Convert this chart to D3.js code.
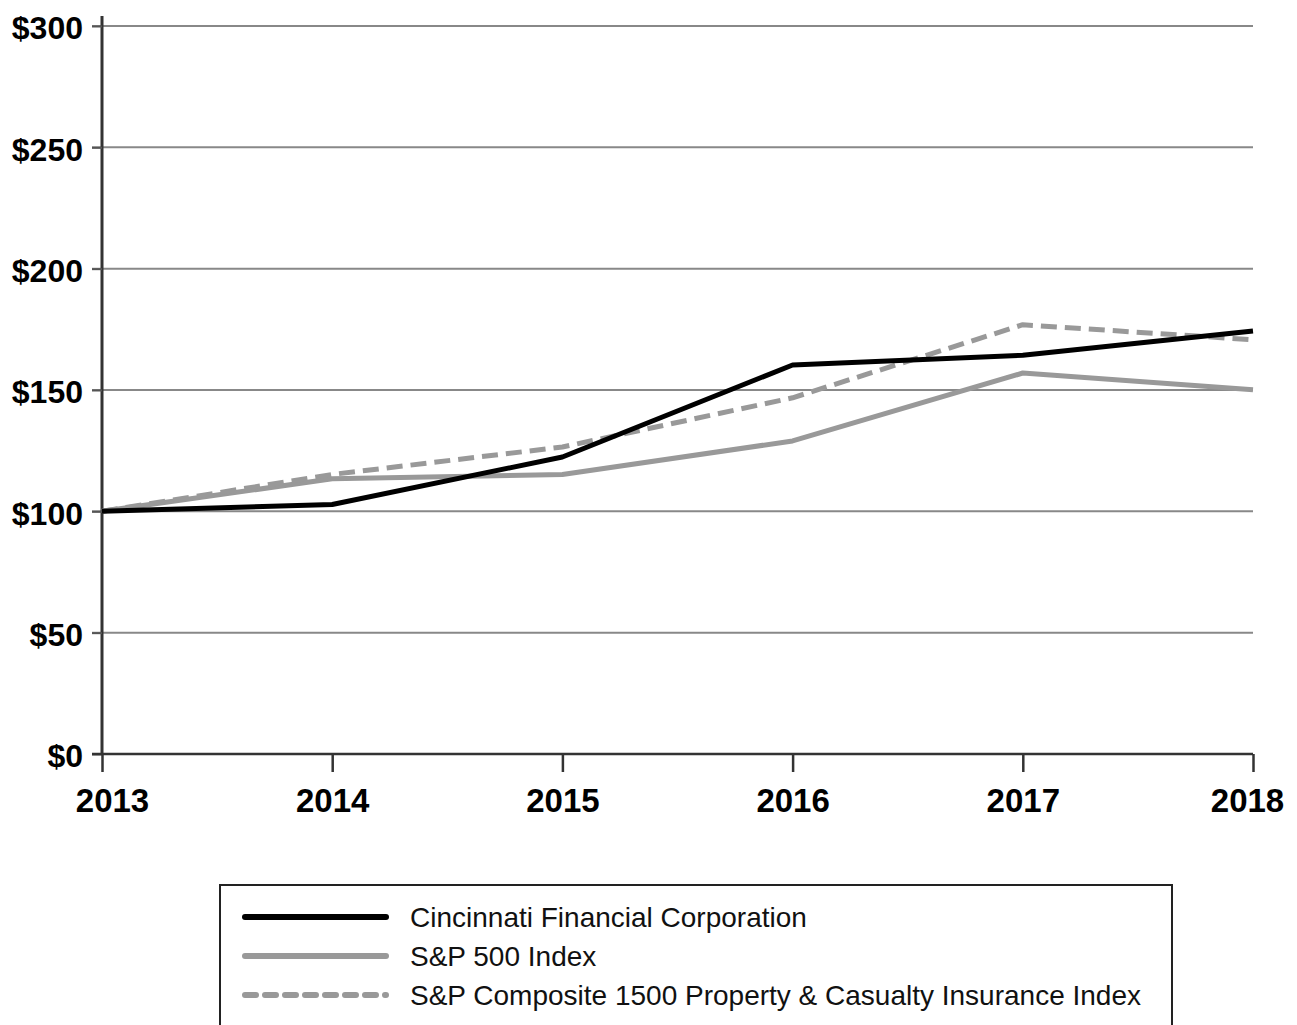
<!DOCTYPE html>
<html>
<head>
<meta charset="utf-8">
<script src="https://cdn.jsdelivr.net/npm/d3@7"></script>
<style>
  body { margin: 0; background: #fff; }
  svg { display: block; font-family: "Liberation Sans", Arial, sans-serif; }
</style>
</head>
<body>
<div id="chart"></div>
<script>
// cumulative total return, $100 invested at end of 2013
var years = [2013, 2014, 2015, 2016, 2017, 2018];
var cinf = [100, 102.8, 122.4, 160.3, 164.3, 174.3];
var sp500 = [100, 113.4, 115.2, 129, 157, 150.1];
var pc1500 = [100, 115.2, 126.5, 146.8, 176.9, 170.7];
var yTicks = [0, 50, 100, 150, 200, 250, 300];

var series = [
  { name: "Cincinnati Financial Corporation", values: cinf, color: "#000", dash: null },
  { name: "S&P 500 Index", values: sp500, color: "#999", dash: null },
  { name: "S&P Composite 1500 Property & Casualty Insurance Index", values: pc1500, color: "#999", dash: "16,8" }
];

var W = 1297, H = 1025;
var svg = d3.select("#chart").append("svg").attr("width", W).attr("height", H);

var x = d3.scaleLinear().domain([2013, 2018]).range([102, 1253]);
var y = d3.scaleLinear().domain([0, 300]).range([754, 26]);

// gridlines
svg.append("g").selectAll("line").data(yTicks.filter(function(d) { return d > 0; })).enter()
  .append("line")
  .attr("x1", 92).attr("x2", 1253)
  .attr("y1", function(d) { return y(d); }).attr("y2", function(d) { return y(d); })
  .attr("stroke", "#888").attr("stroke-width", 2);

// y axis
var yAxis = svg.append("g").attr("transform", "translate(102,0)")
  .call(d3.axisLeft(y).tickValues(yTicks).tickSize(10).tickPadding(9)
    .tickFormat(function(d) { return "$" + d; }));
yAxis.select(".domain").attr("stroke", "#333").attr("stroke-width", 3)
  .attr("d", "M0,16V" + y(0));
yAxis.selectAll(".tick line").attr("stroke", "#555").attr("stroke-width", 2);
yAxis.selectAll(".tick text").attr("font-size", 32).attr("font-weight", "bold")
  .attr("fill", "#000").attr("dy", "0.4em")
  .attr("font-family", "'Liberation Sans', Arial, sans-serif");

// x axis
var xAxis = svg.append("g").attr("transform", "translate(0," + y(0) + ")")
  .call(d3.axisBottom(x).tickValues(years).tickSize(18).tickPadding(17)
    .tickFormat(d3.format("d")));
xAxis.select(".domain").attr("stroke", "#333").attr("stroke-width", 2.5)
  .attr("d", "M92,0H1253");
xAxis.selectAll(".tick line").attr("stroke", "#333").attr("stroke-width", 2.5);
xAxis.selectAll(".tick text").attr("font-size", 33).attr("font-weight", "bold")
  .attr("fill", "#000").attr("font-family", "'Liberation Sans', Arial, sans-serif");
// end labels sit slightly inside like the source
xAxis.selectAll(".tick text").attr("dx", function(d) { return d === 2013 ? 10 : (d === 2018 ? -6 : 0); });

// lines
var line = d3.line()
  .x(function(d, i) { return x(years[i]); })
  .y(function(d) { return y(d); });

[series[1], series[2], series[0]].forEach(function(s) {
  svg.append("path").datum(s.values)
    .attr("d", line)
    .attr("fill", "none")
    .attr("stroke", s.color)
    .attr("stroke-width", 5)
    .attr("stroke-linejoin", "round")
    .attr("stroke-dasharray", s.dash);
});

// legend
var lg = svg.append("g");
lg.append("rect").attr("x", 220).attr("y", 885).attr("width", 952).attr("height", 160)
  .attr("fill", "#fff").attr("stroke", "#222").attr("stroke-width", 2);
var rows = lg.selectAll("g.row").data(series).enter().append("g")
  .attr("transform", function(d, i) { return "translate(0," + (917 + i * 39) + ")"; });
rows.append("line").attr("x1", 245).attr("x2", 386).attr("y1", 0).attr("y2", 0)
  .attr("stroke", function(d) { return d.color; })
  .attr("stroke-width", 6).attr("stroke-linecap", "round")
  .attr("stroke-dasharray", function(d) { return d.dash ? "11,9" : null; });
rows.append("text").attr("x", 410).attr("y", 10)
  .attr("font-size", 28).attr("fill", "#111")
  .text(function(d) { return d.name; });
</script>
</body>
</html>
